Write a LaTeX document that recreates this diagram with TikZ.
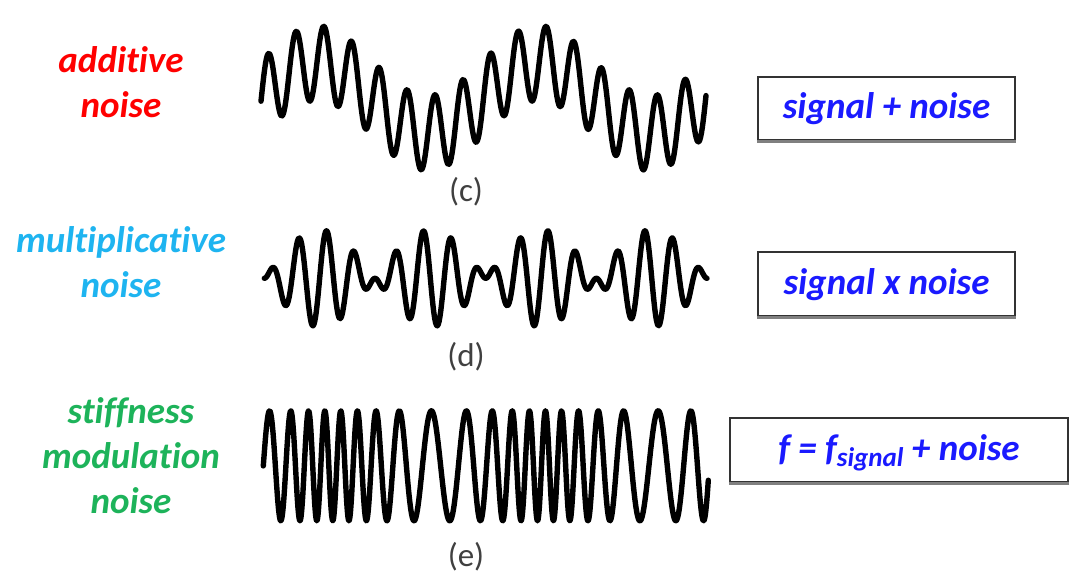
\documentclass[tikz,border=0pt]{standalone}
\usepackage{fontspec}
\setmainfont{Carlito}[Ligatures=NoCommon]
\usepackage{xcolor}
\usepackage{tikz}
\usetikzlibrary{arrows.meta, calc}

\definecolor{addred}{HTML}{FF0000}
\definecolor{multcyan}{HTML}{1EB4F0}
\definecolor{stiffgreen}{HTML}{1DB35A}
\definecolor{formblue}{HTML}{1A1AFF}

\begin{document}
\begin{tikzpicture}[x=1pt, y=-1pt,
  font={\fontsize{37}{45}\selectfont\bfseries\itshape},
  wave/.style={black, line width=5.4pt, line join=round, line cap=round},
  kind/.style={align=center, inner sep=0pt},
  sublabel/.style={black!75, inner sep=0pt, font={\fontsize{33}{34}\selectfont}},
  formula/.style={draw=black!80, line width=2.6pt, fill=white, text=formblue,
    inner sep=0pt, text height=26pt, text depth=5pt}]

\useasboundingbox (0,0) rectangle (1073,577);

%-- noise kinds (left column)
\node[kind, addred]     (Kadd)  at (121, 82)    {additive\\noise};
\node[kind, multcyan]   (Kmult) at (121, 261.7) {multiplicative\\noise};
\node[kind, stiffgreen] (Kstif) at (131, 455.5) {stiffness\\modulation\\noise};

%-- (c) signal + slow noise
\draw[wave] plot[domain=261:706, samples=500]
  (\x, {98 - 37.5*cos(12.96*(\x-268.3)) - 35*cos(1.6216*(\x-316.7))});

%-- (d) signal x noise
\draw[wave] plot[domain=264.3:707, samples=500]
  (\x, {278.3 + 48.5*sin(13.008*(\x-375))*sin(1.626*(\x-375))});

%-- (e) frequency modulated by noise
\draw[wave] plot[domain=263.3:708.3, samples=900]
  (\x, {465.8 - 55*sin(16.18*(\x-263.3) + 222.8*(sin(1.6667*(\x-330)) + 0.932))});

%-- panel letters
\foreach \n/\y in {c/192, d/357, e/557}
  \node[sublabel] (lab\n) at (466, \y) {(\n)};

%-- formula boxes
\node[formula, minimum width=257pt, minimum height=63pt] (Fadd)  at (886.5, 108.5) {signal + noise};
\node[formula, minimum width=257pt, minimum height=64pt] (Fmult) at (886.5, 284)   {signal x noise};
\node[formula, minimum width=338pt, minimum height=64pt] (Fstif) at (899, 450)
  {f = f\raisebox{-6pt}{\fontsize{27}{27}\selectfont signal} + noise};

%-- lighter lower edge of the boxes
\foreach \b in {Fadd, Fmult, Fstif}
  \draw[gray, line width=2.6pt] (\b.south west) -- (\b.south east);

\end{tikzpicture}
\end{document}
